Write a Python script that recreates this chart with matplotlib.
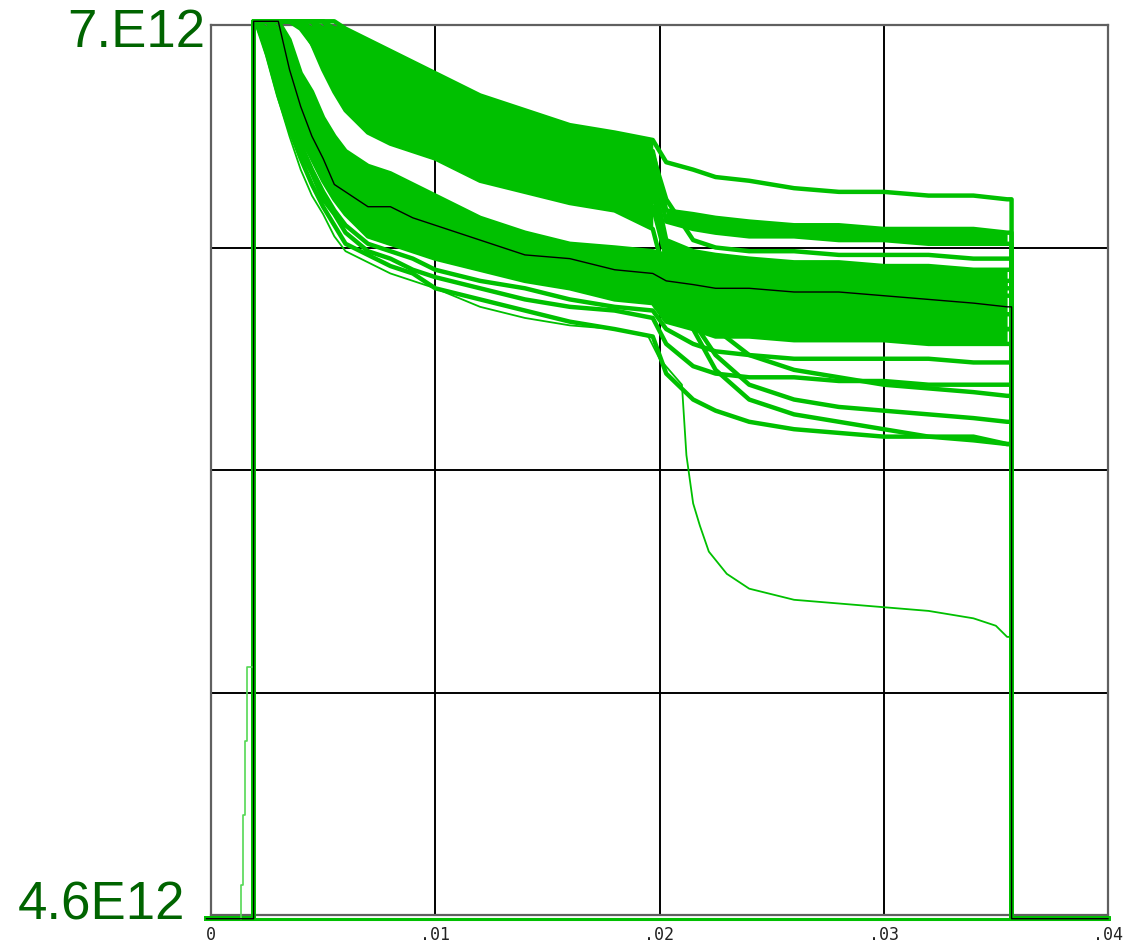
import numpy as np
import matplotlib
matplotlib.use("Agg")
import matplotlib.pyplot as plt

# ---- data (values in units of 1E12) ----
x_knots = [0.0020, 0.0025, 0.0030, 0.0035, 0.0040, 0.0045, 0.0050, 0.0055, 0.0060,
           0.0070, 0.0080, 0.0090, 0.0100, 0.0120, 0.0140, 0.0160, 0.0180, 0.0197,
           0.0203, 0.0215, 0.0225, 0.0240, 0.0260, 0.0280, 0.0300, 0.0320, 0.0340, 0.0355]

A1 = [7.01, 7.01, 7.01, 7.01, 7.01, 7.01, 7.01, 7.01, 6.99, 6.96, 6.93, 6.90, 6.87, 6.81,
      6.77, 6.73, 6.71, 6.69, 6.63, 6.61, 6.59, 6.58, 6.56, 6.55, 6.55, 6.54, 6.54, 6.53]
A2 = [7.01, 7.01, 7.01, 7.01, 7.01, 7.01, 7.01, 6.99, 6.96, 6.92, 6.88, 6.85, 6.82, 6.78,
      6.74, 6.70, 6.68, 6.66, 6.50, 6.49, 6.48, 6.47, 6.46, 6.46, 6.45, 6.45, 6.45, 6.44]
A3 = [7.01, 7.01, 7.01, 7.01, 7.01, 7.01, 6.99, 6.95, 6.91, 6.87, 6.84, 6.81, 6.78, 6.74,
      6.70, 6.68, 6.66, 6.64, 6.47, 6.45, 6.44, 6.43, 6.43, 6.42, 6.42, 6.41, 6.41, 6.41]
A4 = [7.01, 7.01, 7.01, 7.01, 7.01, 6.99, 6.95, 6.91, 6.87, 6.83, 6.80, 6.77, 6.75, 6.70,
      6.66, 6.64, 6.61, 6.59, 6.42, 6.39, 6.38, 6.37, 6.36, 6.36, 6.35, 6.35, 6.34, 6.34]
A5 = [7.01, 7.01, 7.01, 7.01, 6.99, 6.95, 6.90, 6.86, 6.82, 6.78, 6.74, 6.72, 6.70, 6.66,
      6.63, 6.60, 6.58, 6.55, 6.38, 6.34, 6.33, 6.32, 6.31, 6.31, 6.30, 6.30, 6.29, 6.29]
A6 = [7.01, 7.01, 7.01, 7.01, 7.01, 6.97, 6.92, 6.87, 6.81, 6.76, 6.72, 6.70, 6.67, 6.62,
      6.58, 6.55, 6.53, 6.51, 6.37, 6.26, 6.18, 6.11, 6.07, 6.05, 6.03, 6.02, 6.01, 6.00]
A7 = [7.01, 7.01, 7.01, 7.01, 7.00, 6.95, 6.88, 6.82, 6.77, 6.71, 6.68, 6.66, 6.64, 6.58,
      6.55, 6.52, 6.50, 6.45, 6.31, 6.18, 6.07, 5.99, 5.95, 5.93, 5.91, 5.89, 5.89, 5.87]
A8 = [7.01, 7.01, 7.01, 7.01, 7.01, 7.01, 6.96, 6.93, 6.89, 6.85, 6.81, 6.78, 6.77, 6.72,
      6.68, 6.66, 6.64, 6.61, 6.39, 6.29, 6.24, 6.22, 6.20, 6.20, 6.19, 6.19, 6.18, 6.18]
A9 = [7.01, 7.01, 7.01, 7.01, 7.01, 6.96, 6.91, 6.87, 6.84, 6.80, 6.77, 6.74, 6.72, 6.68,
      6.64, 6.61, 6.59, 6.56, 6.39, 6.20, 6.11, 6.03, 5.99, 5.97, 5.96, 5.95, 5.94, 5.93]
A10 = [7.01, 7.01, 7.01, 7.01, 7.01, 7.01, 7.01, 6.97, 6.93, 6.89, 6.86, 6.82, 6.80, 6.76,
       6.72, 6.69, 6.67, 6.65, 6.53, 6.42, 6.40, 6.39, 6.39, 6.38, 6.38, 6.38, 6.37, 6.37]

B1 = [7.01, 7.01, 7.01, 6.96, 6.87, 6.82, 6.75, 6.70, 6.66, 6.62, 6.60, 6.57, 6.54, 6.48,
      6.44, 6.41, 6.40, 6.39, 6.38, 6.36, 6.35, 6.34, 6.34, 6.33, 6.33, 6.32, 6.32, 6.31]
B2 = [7.01, 7.01, 6.99, 6.92, 6.83, 6.77, 6.72, 6.66, 6.62, 6.58, 6.55, 6.53, 6.51, 6.46,
      6.42, 6.39, 6.38, 6.37, 6.34, 6.32, 6.31, 6.30, 6.29, 6.29, 6.28, 6.28, 6.27, 6.27]
B3 = [7.01, 7.01, 6.96, 6.87, 6.78, 6.72, 6.65, 6.60, 6.55, 6.51, 6.49, 6.47, 6.44, 6.40,
      6.37, 6.34, 6.33, 6.32, 6.29, 6.26, 6.25, 6.24, 6.24, 6.23, 6.23, 6.23, 6.22, 6.22]
B4 = [7.01, 6.99, 6.93, 6.84, 6.75, 6.68, 6.61, 6.55, 6.51, 6.47, 6.45, 6.43, 6.41, 6.37,
      6.33, 6.31, 6.29, 6.28, 6.24, 6.23, 6.21, 6.20, 6.20, 6.19, 6.19, 6.19, 6.18, 6.18]
B5 = [7.01, 6.95, 6.87, 6.78, 6.70, 6.64, 6.58, 6.53, 6.49, 6.43, 6.41, 6.39, 6.37, 6.34,
      6.31, 6.29, 6.26, 6.25, 6.20, 6.18, 6.16, 6.16, 6.15, 6.15, 6.15, 6.14, 6.14, 6.14]
B6 = [7.01, 6.96, 6.88, 6.77, 6.68, 6.61, 6.55, 6.50, 6.46, 6.41, 6.39, 6.37, 6.34, 6.31,
      6.29, 6.26, 6.24, 6.23, 6.18, 6.14, 6.12, 6.11, 6.10, 6.10, 6.10, 6.10, 6.09, 6.09]
B7 = [7.01, 6.93, 6.84, 6.74, 6.66, 6.60, 6.53, 6.49, 6.44, 6.39, 6.37, 6.34, 6.32, 6.29,
      6.26, 6.24, 6.23, 6.21, 6.14, 6.08, 6.06, 6.05, 6.05, 6.04, 6.04, 6.03, 6.03, 6.03]
B8 = [7.01, 6.92, 6.81, 6.72, 6.64, 6.57, 6.51, 6.46, 6.41, 6.38, 6.35, 6.33, 6.29, 6.26,
      6.23, 6.20, 6.18, 6.16, 6.06, 5.99, 5.96, 5.93, 5.91, 5.90, 5.89, 5.89, 5.88, 5.87]

mean_v = [7.01, 7.01, 7.01, 6.88, 6.78, 6.70, 6.64, 6.57, 6.55, 6.51, 6.51, 6.48, 6.46, 6.42,
          6.38, 6.37, 6.34, 6.33, 6.31, 6.30, 6.29, 6.29, 6.28, 6.28, 6.27, 6.26, 6.25, 6.24]

outlier_x = [0.0020, 0.0025, 0.0030, 0.0035, 0.0040, 0.0045, 0.0050, 0.0055, 0.0060, 0.0070,
             0.0080, 0.0090, 0.0100, 0.0120, 0.0140, 0.0160, 0.0180, 0.0195, 0.0200, 0.0210,
             0.0212, 0.0215, 0.0218, 0.0222, 0.0230, 0.0240, 0.0260, 0.0280, 0.0300, 0.0320,
             0.0340, 0.0350, 0.0355]
outlier_v = [7.01, 6.91, 6.80, 6.70, 6.61, 6.54, 6.49, 6.43, 6.39, 6.36, 6.33, 6.31, 6.29,
             6.24, 6.21, 6.19, 6.18, 6.16, 6.10, 6.03, 5.84, 5.71, 5.65, 5.58, 5.52, 5.48,
             5.45, 5.44, 5.43, 5.42, 5.40, 5.38, 5.35]

ramp_x = [0.00134, 0.00134, 0.00141, 0.00141, 0.00153, 0.00153, 0.00162, 0.00162, 0.00185]
ramp_v = [4.59, 4.68, 4.68, 4.87, 4.87, 5.07, 5.07, 5.27, 5.27]

baseline_x = [-0.0002, 0.0400]
baseline_v = [4.59, 4.59]

x_start = 0.0019
x_end = 0.0357
x_left = -0.0002
x_right = 0.040
floor_v = 4.59
top_v = 7.01
x_step = 0.0197        # end of the pre-step part of the upper bundle
x_after_step = 0.0203  # start of the post-step part

y_min, y_max = 4.6, 7.0
x_min, x_max = 0.0, 0.04
xtick_vals = [0.0, 0.01, 0.02, 0.03, 0.04]
xtick_labels = ['0', '.01', '.02', '.03', '.04']
ygrid_vals = [5.2, 5.8, 6.4]
scale = 1e12

green = '#00c000'
green_light = '#55d855'
label_green = '#006400'

fig = plt.figure(figsize=(11.37, 9.47), dpi=100)
ax = fig.add_axes([211 / 1137, 32 / 947, 897 / 1137, 890 / 947])


def full_curve(xs, vs):
    x = [x_left, x_start, x_start] + list(xs) + [x_end, x_end, x_right]
    v = [floor_v, floor_v, top_v] + list(vs) + [vs[-1], floor_v, floor_v]
    return np.array(x), np.array(v) * scale


xk = np.array(x_knots)
pre = xk <= x_step
post = xk >= x_after_step
whole = np.ones(len(xk), dtype=bool)


def band(lo, hi, mask):
    ax.fill_between(xk[mask], np.array(lo)[mask] * scale, np.array(hi)[mask] * scale,
                    color=green, lw=0, zorder=2.5)


# dense parts of the bundles
band(A7, A1, pre)
band(B5, B1, whole)
band(A3, A2, post)
band(A5, A4, post)

ax.plot(np.array(baseline_x), np.array(baseline_v) * scale, color=green, lw=2.2,
        clip_on=False, zorder=3)

curves = [A1, A2, A3, A4, A5, A6, A7, A8, A9, A10, B1, B2, B3, B4, B5, B6, B7, B8]
for c in curves:
    xx, yy = full_curve(x_knots, c)
    ax.plot(xx, yy, color=green, lw=3.2, clip_on=False, zorder=3)

xx, yy = full_curve(outlier_x, outlier_v)
ax.plot(xx, yy, color=green, lw=1.3, clip_on=False, zorder=3)

ax.plot(np.array(ramp_x), np.array(ramp_v) * scale, color=green_light, lw=1.2,
        clip_on=False, zorder=3)

xx, yy = full_curve(x_knots, mean_v)
ax.plot(xx, yy, color='black', lw=1.0, clip_on=False, zorder=4)

ax.set_xlim(x_min, x_max)
ax.set_ylim(y_min * scale, y_max * scale)
ax.set_xticks(xtick_vals)
ax.set_xticklabels(xtick_labels, family='DejaVu Sans Mono', fontsize=12, color='#222222')
ax.set_yticks([v * scale for v in ygrid_vals])
ax.set_yticklabels([])
ax.tick_params(axis='both', length=0)
ax.tick_params(axis='x', pad=8)
ax.set_axisbelow(True)
ax.grid(True, color='black', lw=1.4)
for s in ax.spines.values():
    s.set_color('#606060')
    s.set_linewidth(1.6)

fig.text(205 / 1137, 1 - 47 / 947, '7.E12', ha='right', va='baseline', fontsize=38,
         color=label_green, family='Liberation Sans')
fig.text(185 / 1137, 1 - 919 / 947, '4.6E12', ha='right', va='baseline', fontsize=38,
         color=label_green, family='Liberation Sans')

fig.savefig('out.png', dpi=100)
